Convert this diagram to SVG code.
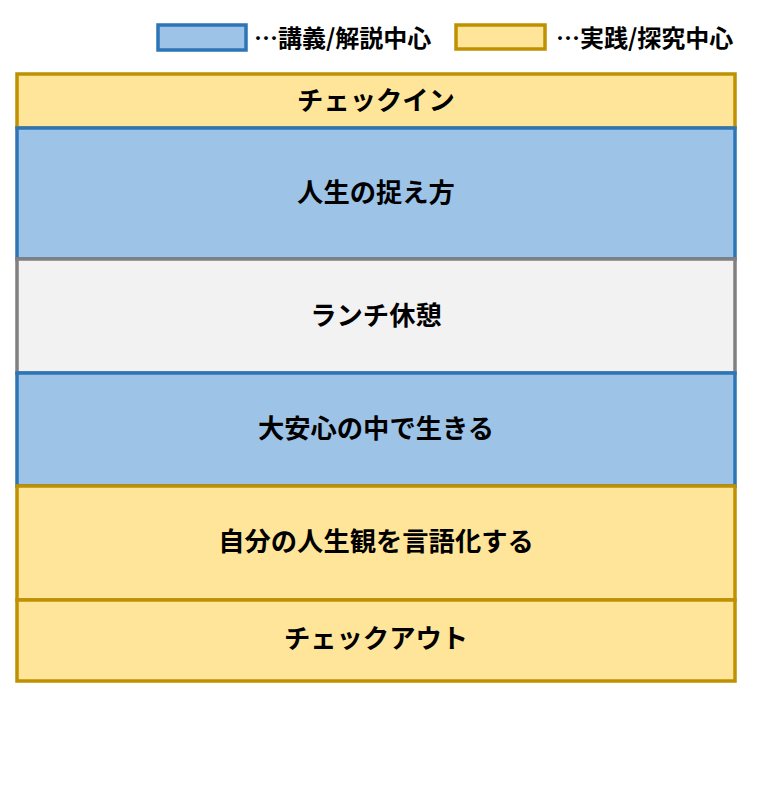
<svg xmlns="http://www.w3.org/2000/svg" width="760" height="785" viewBox="0 0 760 785">
<style>
.y{fill:#FFE599;stroke:#BF9000;stroke-width:3.5}
.b{fill:#9DC3E6;stroke:#2E75B6;stroke-width:3.5}
.g{fill:#F2F2F2;stroke:#808080;stroke-width:3.5}
.t{font-family:"Noto Sans CJK JP","Noto Sans",sans-serif;font-weight:bold;font-size:26.3px;fill:#000;text-anchor:middle;dominant-baseline:central}
.l{font-family:"Noto Sans CJK JP","Noto Sans",sans-serif;font-weight:bold;font-size:24px;fill:#000;dominant-baseline:central}
</style>
<rect width="760" height="785" fill="#fff"/>
<g id="legend">
<rect class="b" x="158" y="25" width="88" height="25"/>
<text class="l" x="254" y="36">…講義/解説中心</text>
<rect class="y" x="456" y="25" width="89" height="24"/>
<text class="l" x="556" y="36">…実践/探究中心</text>
</g>
<g id="checkin"><rect class="y" x="17" y="74" width="718" height="54"/><text class="t" x="376" y="98">チェックイン</text></g>
<g id="jinsei"><rect class="b" x="17" y="128" width="718" height="131"/><text class="t" x="376" y="190">人生の捉え方</text></g>
<g id="lunch"><rect class="g" x="17" y="259" width="718" height="114"/><text class="t" x="376" y="313">ランチ休憩</text></g>
<g id="daianshin"><rect class="b" x="17" y="373" width="718" height="113"/><text class="t" x="376" y="426">大安心の中で生きる</text></g>
<g id="gengoka"><rect class="y" x="17" y="486" width="718" height="114"/><text class="t" x="376" y="539">自分の人生観を言語化する</text></g>
<g id="checkout"><rect class="y" x="17" y="600" width="718" height="81"/><text class="t" x="376" y="636">チェックアウト</text></g>
<g id="connectors"></g>
</svg>
